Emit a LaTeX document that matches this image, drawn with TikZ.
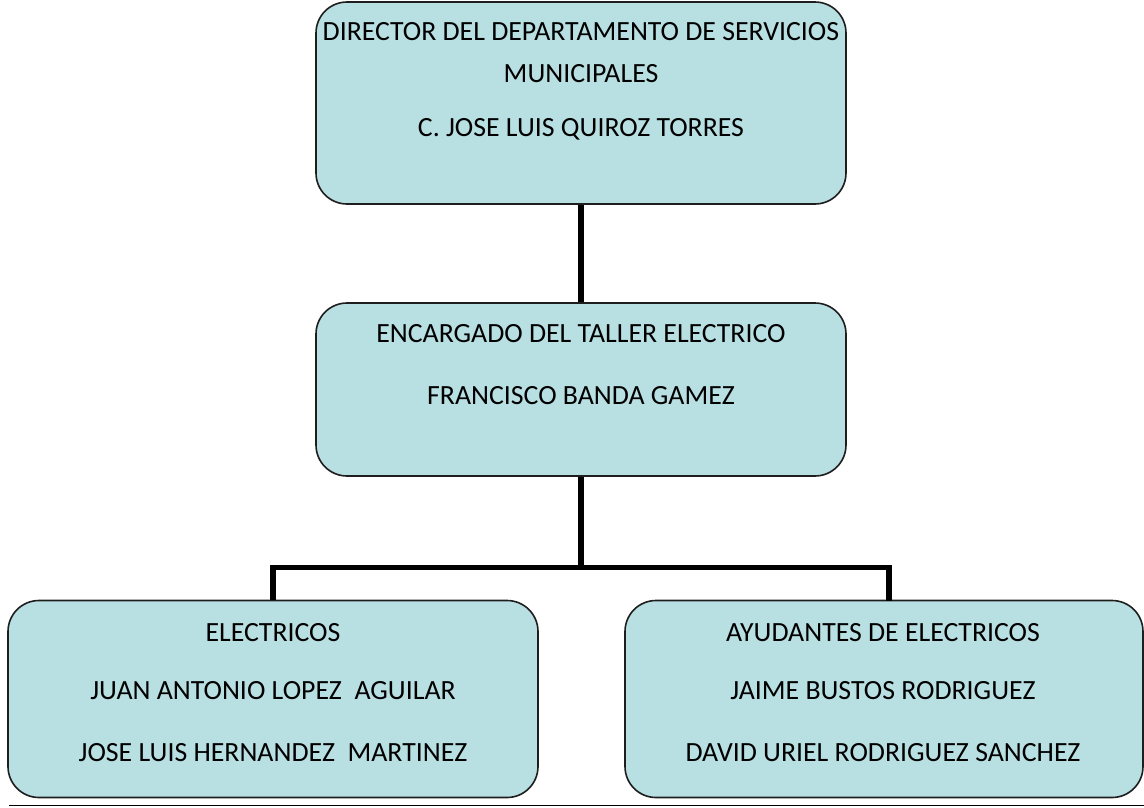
\documentclass[tikz,border=0pt]{standalone}
\usepackage{fontspec}
\setmainfont{Carlito}
\definecolor{boxfill}{RGB}{184,223,226}
\definecolor{boxline}{RGB}{30,30,30}
\begin{document}
\begin{tikzpicture}[x=1pt,y=-1pt,
  orgbox/.style={draw=boxline,line width=1.6pt,fill=boxfill,rounded corners=31pt,inner sep=0pt},
  conn/.style={line width=5.5pt,black},
  lbl/.style={anchor=base,inner sep=0pt,font=\fontsize{27.8}{33}\selectfont}]
\useasboundingbox (0,0) rectangle (1144,807);
\begin{scope}
\clip (0,0) rectangle (1144,807);
\node[orgbox,minimum width=530pt,minimum height=202pt] (top) at (581,103) {};
\node[orgbox,minimum width=530pt,minimum height=173pt] (mid) at (581,389.5) {};
\node[orgbox,minimum width=530pt,minimum height=197pt] (left) at (273,699) {};
\node[orgbox,minimum width=518pt,minimum height=197pt] (right) at (884,699) {};
\end{scope}
\coordinate (j) at (581,567.5);
\coordinate (jl) at (273,567.5);
\coordinate (jr) at (889,567.5);
\coordinate (rt) at (889,600.5);
\draw[conn] (top.south) -- (mid.north);
\draw[conn] (mid.south) -- (j);
\draw[conn,line join=miter] (left.north) -- (jl) -- (jr) -- (rt);
\node[lbl] (t1) at (581,40) {DIRECTOR DEL DEPARTAMENTO DE SERVICIOS};
\node[lbl] (t2) at (581,82) {MUNICIPALES};
\node[lbl] (t3) at (581,136) {C. JOSE LUIS QUIROZ TORRES};
\node[lbl] (m1) at (581,342) {ENCARGADO DEL TALLER ELECTRICO};
\node[lbl] (m2) at (581,404) {FRANCISCO BANDA GAMEZ};
\node[lbl] (l1) at (273,641) {ELECTRICOS};
\node[lbl] (l2) at (273,699) {JUAN ANTONIO LOPEZ\ \ AGUILAR};
\node[lbl] (l3) at (273,761) {JOSE LUIS HERNANDEZ\ \ MARTINEZ};
\node[lbl] (r1) at (883,641) {AYUDANTES DE ELECTRICOS};
\node[lbl] (r2) at (883,699) {JAIME BUSTOS RODRIGUEZ};
\node[lbl] (r3) at (883,761) {DAVID URIEL RODRIGUEZ SANCHEZ};
\coordinate (b0) at (9,805.5);
\coordinate (b1) at (1144,805.5);
\draw[line width=1.6pt,black] (b0) -- (b1);
\end{tikzpicture}
\end{document}
